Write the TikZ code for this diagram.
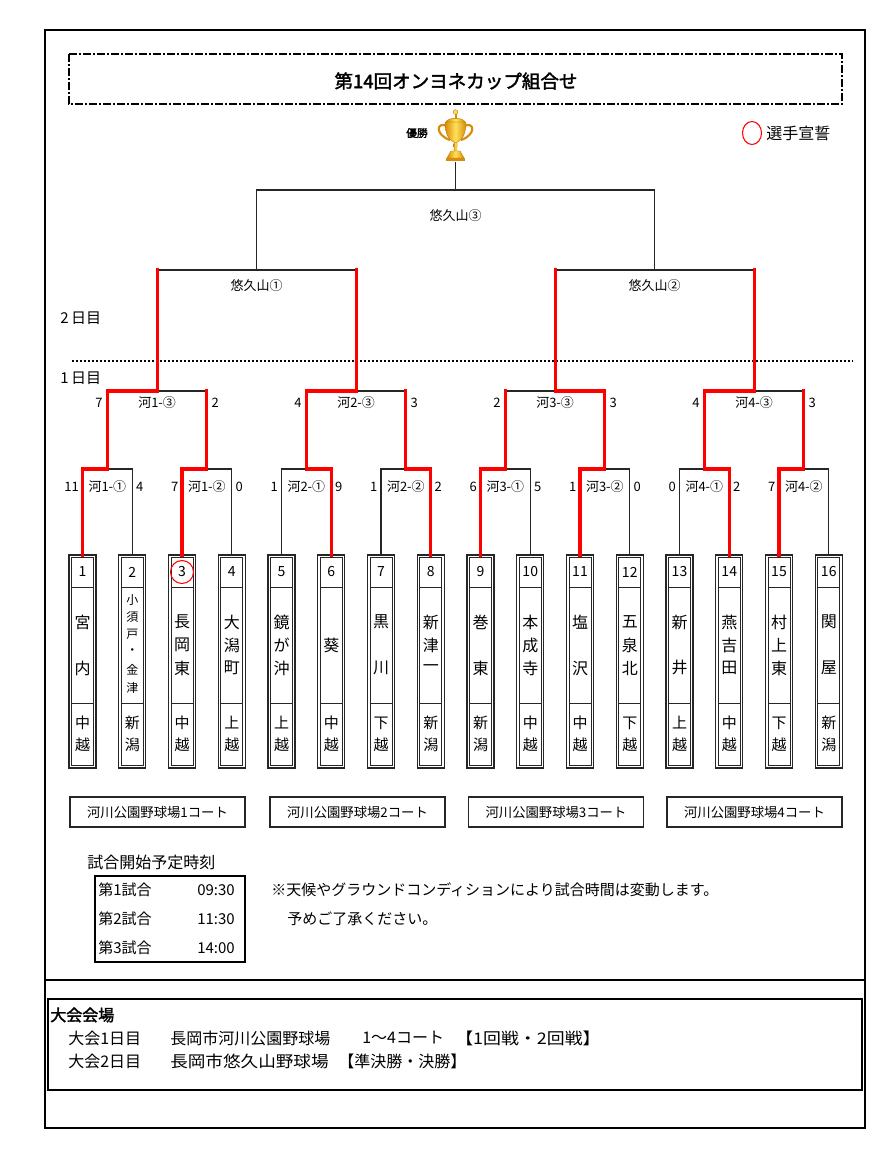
\documentclass[tikz,border=0pt]{standalone}
\usepackage{fontspec}
\usepackage{graphicx}
\setmainfont{Noto Sans CJK JP}
\newfontfamily\jpb[FakeBold=2]{Noto Sans CJK JP}
\definecolor{rline}{RGB}{255,0,0}
\definecolor{goldA}{RGB}{215,140,10}
\definecolor{goldB}{RGB}{255,225,90}
\definecolor{goldE}{RGB}{190,120,0}
\newcommand\teambox[3]{%
  \draw[boxo] (#2-13.5,555) rectangle (#2+13.5,768);
  \draw[boxi] (#2-11,557.5) rectangle (#2+11,765.5);
  \draw[boxi] (#2-11,587) -- (#2+11,587);
  \draw[boxi] (#2-11,703) -- (#2+11,703);
  \node[numtxt] (n#1) at (#2,572) {#3};
  \coordinate (T#1) at (#2,555);
}
\newcommand\vname[3]{\foreach \yy/\cc in {#3} {\node[#2] at (#1,\yy) {\cc};}}
\newcommand\rone[7]{%
  \node[lbl,anchor=east] at (#1-3.5,487) {#4};
  \node[lbl] (#7) at (#3,487) {#5};
  \node[lbl,anchor=west] at (#2+3.5,487) {#6};
}
\newcommand\rtwo[7]{%
  \node[lbl,anchor=east] at (#1-4.5,403) {#4};
  \node[lbl] (#7) at (#3,403) {#5};
  \node[lbl,anchor=west] at (#2+4.5,403) {#6};
}
\begin{document}
\begin{tikzpicture}[x=0.75pt,y=-0.75pt,
  blk/.style={line width=1.1pt,black!85},
  redl/.style={line width=2.3pt,rline,line cap=rect},
  boxo/.style={line width=0.9pt,black!85},
  boxi/.style={line width=0.7pt,black!85},
  lbl/.style={inner sep=0pt,font=\fontsize{9.75pt}{11pt}\selectfont},
  numtxt/.style={inner sep=0pt,font=\fontsize{10.5pt}{12pt}\selectfont},
  nmtxt/.style={inner sep=0pt,font=\fontsize{12pt}{13pt}\selectfont},
  smtxt/.style={inner sep=0pt,font=\fontsize{9pt}{10pt}\selectfont},
  regtxt/.style={inner sep=0pt,font=\fontsize{11.25pt}{12pt}\selectfont},
  midtxt/.style={inner sep=0pt,font=\fontsize{11.25pt}{13pt}\selectfont},
  bigtxt/.style={inner sep=0pt,font=\fontsize{12pt}{14pt}\selectfont},
  courtbox/.style={draw,line width=0.9pt,black!85,minimum width=175*0.75pt,minimum height=30*0.75pt,inner sep=0pt,font=\fontsize{10pt}{12pt}\selectfont,text=black}
]
\useasboundingbox (0,0) rectangle (894,1160);
\fill[white] (0,0) rectangle (894,1160);

% outer frame
\draw[line width=1.5pt] (45,30) rectangle (865,1128);
\draw[line width=1.3pt] (45,980) -- (865,980);
\draw[line width=1pt] (48,999) rectangle (862,1090);

% title
\draw[line width=1.4pt,dash pattern=on 6pt off 1.5pt on 1.5pt off 1.5pt] (69,54) rectangle (842,104);
\node[inner sep=0pt,font=\jpb\fontsize{13.9pt}{15pt}\selectfont] (title) at (456,81) {第14回オンヨネカップ組合せ};

% trophy
\node[inner sep=0pt,font=\jpb\fontsize{8pt}{9pt}\selectfont] (win) at (417,133) {優勝};
\draw[goldA,line width=1.6pt] (447,126) .. controls (436,121) and (435,135) .. (450,140);
\draw[goldA,line width=1.6pt] (464,126) .. controls (475,121) and (476,135) .. (461,140);
\shade[left color=goldA,right color=goldA,middle color=goldB,draw=goldE,line width=0.3pt]
  (445,122) .. controls (445,136) and (450,141) .. (455.5,143) .. controls (461,141) and (466,136) .. (466,122) -- cycle;
\shade[left color=goldA,right color=goldA,middle color=goldB,draw=goldE,line width=0.3pt]
  (446,122) .. controls (448,117) and (463,117) .. (465,122) -- cycle;
\fill[goldA] (454.5,113) rectangle (456.5,119);
\fill[goldB,draw=goldE,line width=0.3pt] (455.5,112) circle (2.3);
\shade[left color=goldA,right color=goldA,middle color=goldB] (453.5,143) -- (457.5,143) -- (457,151) -- (454,151) -- cycle;
\shade[left color=goldA,right color=goldA,middle color=goldB,draw=goldE,line width=0.3pt] (451,151) -- (460,151) -- (464,158) -- (447,158) -- cycle;
\fill[goldA] (446,158) rectangle (465,161);
\coordinate (cupb) at (455.625,162);

% legend
\draw[rline,line width=0.8pt] (752,133) ellipse (9.5 and 11.5);
\node[bigtxt,anchor=west] (legend) at (766,133) {選手宣誓};

% day labels and dotted separator
\node[midtxt,anchor=west] (day2) at (60,318) {2\,日目};
\node[midtxt,anchor=west] (day1) at (60,378) {1\,日目};
\draw[line width=0.9pt,dash pattern=on 1.5pt off 1.5pt] (72,361) -- (853,361);

% team boxes
\teambox{1}{82.5}{1}
\teambox{2}{132.25}{2}
\teambox{3}{182}{3}
\teambox{4}{231.75}{4}
\teambox{5}{281.5}{5}
\teambox{6}{331.25}{6}
\teambox{7}{381}{7}
\teambox{8}{430.75}{8}
\teambox{9}{480.5}{9}
\teambox{10}{530.25}{10}
\teambox{11}{580}{11}
\teambox{12}{629.75}{12}
\teambox{13}{679.5}{13}
\teambox{14}{729.25}{14}
\teambox{15}{779}{15}
\teambox{16}{828.75}{16}
\draw[rline,line width=0.8pt] (n3) circle (11.5);

% team names
\vname{82.5}{nmtxt}{622/宮,668/内}
\vname{132.25}{smtxt}{600/小,617/須,634/戸,652/・,670/金,688/津}
\vname{182}{nmtxt}{622/長,645/岡,668/東}
\vname{231.75}{nmtxt}{622/大,645/潟,668/町}
\vname{281.5}{nmtxt}{622/鏡,645/が,668/沖}
\vname{331.25}{nmtxt}{645/葵}
\vname{381}{nmtxt}{622/黒,668/川}
\vname{430.75}{nmtxt}{622/新,645/津,668/一}
\vname{480.5}{nmtxt}{622/巻,668/東}
\vname{530.25}{nmtxt}{622/本,645/成,668/寺}
\vname{580}{nmtxt}{622/塩,668/沢}
\vname{629.75}{nmtxt}{622/五,645/泉,668/北}
\vname{679.5}{nmtxt}{622/新,668/井}
\vname{729.25}{nmtxt}{622/燕,645/吉,668/田}
\vname{779}{nmtxt}{622/村,645/上,668/東}
\vname{828.75}{nmtxt}{622/関,668/屋}
% regions
\vname{82.5}{regtxt}{723/中,745/越}
\vname{132.25}{regtxt}{723/新,745/潟}
\vname{182}{regtxt}{723/中,745/越}
\vname{231.75}{regtxt}{723/上,745/越}
\vname{281.5}{regtxt}{723/上,745/越}
\vname{331.25}{regtxt}{723/中,745/越}
\vname{381}{regtxt}{723/下,745/越}
\vname{430.75}{regtxt}{723/新,745/潟}
\vname{480.5}{regtxt}{723/新,745/潟}
\vname{530.25}{regtxt}{723/中,745/越}
\vname{580}{regtxt}{723/中,745/越}
\vname{629.75}{regtxt}{723/下,745/越}
\vname{679.5}{regtxt}{723/上,745/越}
\vname{729.25}{regtxt}{723/中,745/越}
\vname{779}{regtxt}{723/下,745/越}
\vname{828.75}{regtxt}{723/新,745/潟}

% bracket coordinates
\coordinate (A1) at (107.375,469);
\coordinate (A2) at (206.875,469);
\coordinate (A3) at (306.375,469);
\coordinate (A4) at (405.875,469);
\coordinate (A5) at (505.375,469);
\coordinate (A6) at (604.875,469);
\coordinate (A7) at (704.375,469);
\coordinate (A8) at (803.875,469);
\coordinate (B1) at (157.125,391);
\coordinate (B2) at (356.125,391);
\coordinate (B3) at (555.125,391);
\coordinate (B4) at (754.125,391);
\coordinate (S1) at (256.625,270);
\coordinate (S2) at (654.625,270);
\coordinate (F) at (455.625,190);

% black tree
\draw[blk] (T1) |- (A1) -| (T2);
\draw[blk] (T3) |- (A2) -| (T4);
\draw[blk] (T5) |- (A3) -| (T6);
\draw[blk] (T7) |- (A4) -| (T8);
\draw[blk] (T9) |- (A5) -| (T10);
\draw[blk] (T11) |- (A6) -| (T12);
\draw[blk] (T13) |- (A7) -| (T14);
\draw[blk] (T15) |- (A8) -| (T16);
\draw[blk] (A1) |- (B1) -| (A2);
\draw[blk] (A3) |- (B2) -| (A4);
\draw[blk] (A5) |- (B3) -| (A6);
\draw[blk] (A7) |- (B4) -| (A8);
\draw[blk] (B1) |- (S1) -| (B2);
\draw[blk] (B3) |- (S2) -| (B4);
\draw[blk] (S1) |- (F) -| (S2);
\draw[blk] (F) -- (cupb);

% winners in red
\draw[redl] (T1) |- (A1) |- (B1) -- (B1 |- S1);
\draw[redl] (T3) |- (A2) -- (A2 |- B1);
\draw[redl] (T6) |- (A3) |- (B2) -- (B2 |- S1);
\draw[redl] (T8) |- (A4) -- (A4 |- B2);
\draw[redl] (T9) |- (A5) -- (A5 |- B3);
\draw[redl] (T11) |- (A6) |- (B3) -- (B3 |- S2);
\draw[redl] (T14) |- (A7) |- (B4) -- (B4 |- S2);
\draw[redl] (T15) |- (A8) -- (A8 |- B4);

% round 1 labels
\rone{82.5}{132.25}{107.375}{11}{河1-①}{4}{m11}
\rone{182}{231.75}{206.875}{7}{河1-②}{0}{m12}
\rone{281.5}{331.25}{306.375}{1}{河2-①}{9}{m21}
\rone{381}{430.75}{405.875}{1}{河2-②}{2}{m22}
\rone{480.5}{530.25}{505.375}{6}{河3-①}{5}{m31}
\rone{580}{629.75}{604.875}{1}{河3-②}{0}{m32}
\rone{679.5}{729.25}{704.375}{0}{河4-①}{2}{m41}
\rone{779}{828.75}{803.875}{7}{河4-②}{}{m42}
% round 2 labels
\rtwo{107.375}{206.875}{157.125}{7}{河1-③}{2}{m13}
\rtwo{306.375}{405.875}{356.125}{4}{河2-③}{3}{m23}
\rtwo{505.375}{604.875}{555.125}{2}{河3-③}{3}{m33}
\rtwo{704.375}{803.875}{754.125}{4}{河4-③}{3}{m43}
% semifinal / final labels
\node[lbl] (sf1) at (256.625,286) {悠久山①};
\node[lbl] (sf2) at (654.625,286) {悠久山②};
\node[lbl] (fin) at (455.625,216) {悠久山③};

% courts
\node[courtbox] (c1) at (157.5,812) {河川公園野球場1コート};
\node[courtbox] (c2) at (357.5,812) {河川公園野球場2コート};
\node[courtbox] (c3) at (556,812) {河川公園野球場3コート};
\node[courtbox] (c4) at (754.5,812) {河川公園野球場4コート};

% schedule
\node[bigtxt,anchor=west] (sched) at (87,862) {試合開始予定時刻};
\draw[line width=0.9pt] (95,876) rectangle (245,962);
\node[midtxt,anchor=west] (g1) at (98,890) {第1試合};
\node[midtxt,anchor=west] (g2) at (98,919) {第2試合};
\node[midtxt,anchor=west] (g3) at (98,948) {第3試合};
\node[midtxt,anchor=east] (h1) at (235,890) {09:30};
\node[midtxt,anchor=east] (h2) at (235,919) {11:30};
\node[midtxt,anchor=east] (h3) at (235,948) {14:00};
\node[midtxt,anchor=west] (note1) at (271,890) {※天候やグラウンドコンディションにより試合時間は変動します。};
\node[midtxt,anchor=west] (note2) at (287,919) {予めご了承ください。};

% venue
\node[inner sep=0pt,anchor=west,font=\jpb\fontsize{12pt}{14pt}\selectfont] (venue) at (50,1015) {大会会場};
\node[bigtxt,anchor=west] (v1a) at (68,1038) {大会1日目};
\node[bigtxt,anchor=west] (v1b) at (170,1038) {長岡市河川公園野球場};
\node[bigtxt,anchor=west] (v1c) at (362,1038) {1～4コート};
\node[bigtxt,anchor=west] (v1d) at (455,1038) {\scalebox{1.12}[1]{【1回戦・2回戦】}};
\node[bigtxt,anchor=west] (v2a) at (68,1061) {大会2日目};
\node[bigtxt,anchor=west] (v2b) at (170,1061) {\scalebox{1.1}[1]{長岡市悠久山野球場}};
\node[bigtxt,anchor=west] (v2c) at (338,1061) {【準決勝・決勝】};
\end{tikzpicture}
\end{document}
